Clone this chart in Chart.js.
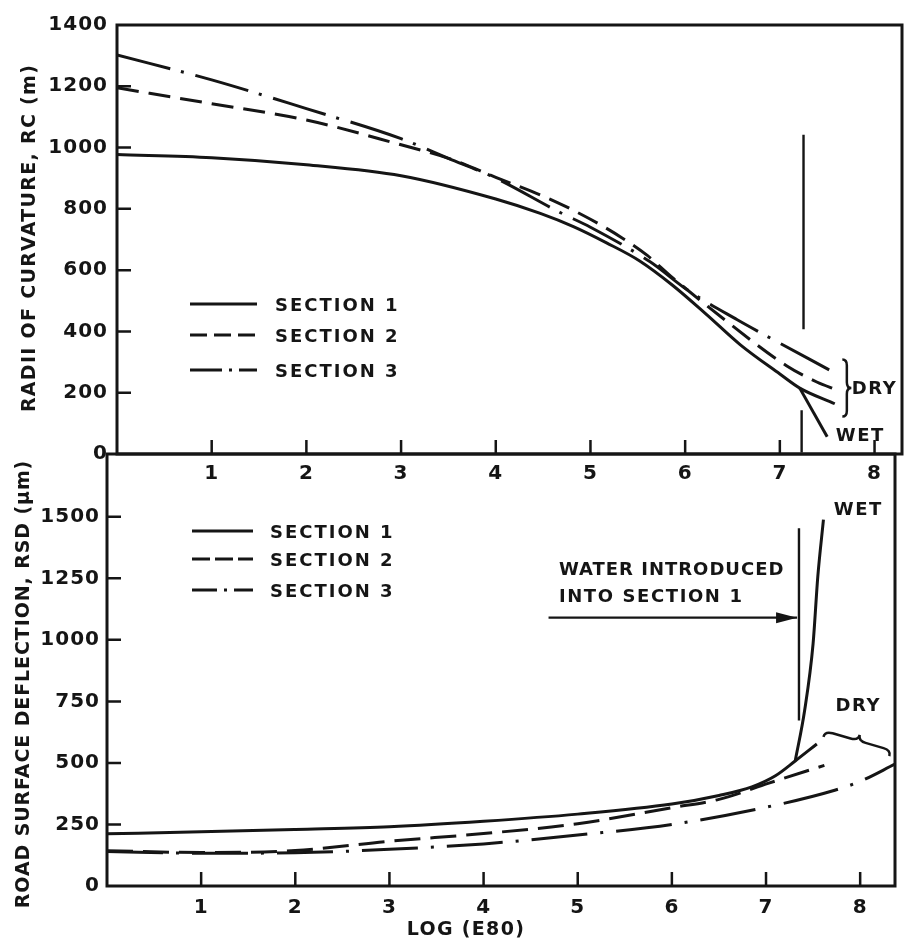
<!DOCTYPE html>
<html>
<head>
<meta charset="utf-8">
<title>RC and RSD versus LOG (E80)</title>
<script src="https://cdn.jsdelivr.net/npm/chart.js@4.4.1/dist/chart.umd.min.js"></script>
<style>
  html, body { margin: 0; padding: 0; background: #fff; }
  #wrap { position: relative; width: 906px; height: 949px; }
  #wrap canvas { position: absolute; left: 0; top: 0; }
</style>
</head>
<body>
<div id="wrap">
  <canvas id="rcChart" width="906" height="949"></canvas>
  <canvas id="rsdChart" width="906" height="949"></canvas>
</div>
<script>
// top panel: radii of curvature, RC (m)
const rcS1X  = [0, 1, 2, 3, 4, 4.47, 4.82, 5.17, 5.52, 5.87, 6.23, 6.58, 7, 7.21, 7.58];
const rcS1   = [977, 967, 944, 908, 832, 785, 742, 689, 630, 550, 454, 357, 261, 215, 164];
const rcWetX = [7.21, 7.5];
const rcWet  = [215, 56];
const rcS2X  = [0, 1, 2, 3, 3.5, 4, 4.6, 5, 5.33, 5.6, 5.85, 6.43, 7.07, 7.39, 7.6];
const rcS2   = [1195, 1143, 1090, 1009, 965, 903, 828, 766, 706, 648, 580, 435, 288, 235, 209];
const rcS3X  = [0, 1, 2, 3, 3.5, 4, 4.68, 5, 5.63, 6.03, 6.55, 6.86, 7.53];
const rcS3   = [1302, 1221, 1127, 1029, 965, 900, 788, 740, 627, 534, 438, 385, 273];
const rcWaterX    = [7.25, 7.25];
const rcWaterHigh = [1042, 407];
const rcWaterLowX = [7.23, 7.23];
const rcWaterLow  = [143, 5];

// bottom panel: road surface deflection, RSD (um)
const rsdS1X  = [0, 1, 2, 3, 4, 5, 6, 6.5, 6.85, 7.1, 7.31, 7.54];
const rsdS1   = [212, 220, 230, 241, 263, 292, 333, 368, 403, 448, 508, 577];
const rsdWetX = [7.31, 7.41, 7.5, 7.55, 7.61];
const rsdWet  = [508, 713, 985, 1257, 1488];
const rsdS2X  = [0, 1, 2, 3, 4, 5, 6, 6.5, 7.03, 7.62];
const rsdS2   = [143, 136, 144, 182, 213, 253, 318, 352, 418, 490];
const rsdS3X  = [0, 1, 2, 3, 4, 5, 6, 7, 7.73, 8, 8.37];
const rsdS3   = [140, 133, 135, 149, 171, 207, 250, 320, 389, 425, 495];
const rsdWaterX = [7.35, 7.35];
const rsdWater  = [1453, 672];
const rsdArrowX = [4.69, 7.33];
const rsdArrow  = [1090, 1090];

// tick labels
const logTicks = [1, 2, 3, 4, 5, 6, 7, 8];
const rcTicks  = [0, 200, 400, 600, 800, 1000, 1200, 1400];
const rsdTicks = [0, 250, 500, 750, 1000, 1250, 1500];

const ink = '#151515';
const family = '"DejaVu Sans", "Liberation Sans", sans-serif';
const tickFont = { family: family, size: 20, weight: 'bold' };

const pts = (xs, ys) => xs.map((x, i) => ({ x: x, y: ys[i] }));

function curve(label, xs, ys, dash) {
    return {
        label: label,
        data: pts(xs, ys),
        borderColor: ink,
        borderWidth: 3,
        borderDash: dash || [],
        borderCapStyle: 'butt',
        pointRadius: 0,
        fill: false,
        cubicInterpolationMode: 'monotone'
    };
}

function straight(label, xs, ys, width) {
    return {
        label: label,
        data: pts(xs, ys),
        borderColor: ink,
        borderWidth: width,
        pointRadius: 0,
        fill: false,
        tension: 0
    };
}

function brace(ctx, p1, p2, dir, d) {
    const dx = p2.x - p1.x, dy = p2.y - p1.y, L = Math.hypot(dx, dy);
    const u = { x: dx / L, y: dy / L };
    let n = { x: -u.y, y: u.x };
    if (n.x * dir.x + n.y * dir.y < 0) n = { x: -n.x, y: -n.y };
    const at = (s, t) => ({ x: p1.x + u.x * s + n.x * t, y: p1.y + u.y * s + n.y * t });
    const h = d / 2, q = Math.min(h * 1.3, L / 4), m = L / 2;
    let c, e;
    ctx.beginPath();
    ctx.moveTo(p1.x, p1.y);
    c = at(0, h); e = at(q, h); ctx.quadraticCurveTo(c.x, c.y, e.x, e.y);
    e = at(m - q, h); ctx.lineTo(e.x, e.y);
    c = at(m, h); e = at(m, d); ctx.quadraticCurveTo(c.x, c.y, e.x, e.y);
    e = at(m + q, h); ctx.quadraticCurveTo(c.x, c.y, e.x, e.y);
    e = at(L - q, h); ctx.lineTo(e.x, e.y);
    c = at(L, h); ctx.quadraticCurveTo(c.x, c.y, p2.x, p2.y);
    ctx.stroke();
}

function text(ctx, str, x, y, size, spacing, align, rotate) {
    ctx.save();
    ctx.font = 'bold ' + size + 'px ' + family;
    ctx.letterSpacing = spacing + 'px';
    ctx.textAlign = align || 'center';
    ctx.textBaseline = 'middle';
    ctx.translate(x, y);
    if (rotate) ctx.rotate(rotate);
    ctx.fillText(str, 0, 0);
    ctx.restore();
}

// frame, inward ticks, legend and notes for one panel
function paper(cfg) {
    return {
        id: 'paper',
        beforeDraw(chart) {
            chart.ctx.letterSpacing = '1px';
        },
        afterDraw(chart) {
            const ctx = chart.ctx, a = chart.chartArea;
            const xs = chart.scales.x, ys = chart.scales.y;
            const px = v => xs.getPixelForValue(v), py = v => ys.getPixelForValue(v);
            ctx.save();
            ctx.strokeStyle = ink;
            ctx.fillStyle = ink;
            ctx.lineWidth = 3;
            ctx.strokeRect(a.left, a.top, a.right - a.left, a.bottom - a.top);

            ctx.lineWidth = 2.5;
            ctx.beginPath();
            xs.ticks.forEach(t => {
                if (t.value <= xs.min || t.value >= xs.max) return;
                ctx.moveTo(px(t.value), a.bottom);
                ctx.lineTo(px(t.value), a.bottom - 14);
            });
            ys.ticks.forEach(t => {
                if (t.value <= ys.min || t.value >= ys.max) return;
                ctx.moveTo(a.left, py(t.value));
                ctx.lineTo(a.left + 14, py(t.value));
            });
            ctx.stroke();

            const lg = cfg.legend;
            lg.rows.forEach((row, i) => {
                const yy = a.top + lg.top[i];
                ctx.save();
                ctx.lineWidth = 3;
                ctx.setLineDash(row.dash);
                ctx.beginPath();
                ctx.moveTo(a.left + lg.x0, yy);
                ctx.lineTo(a.left + lg.x1, yy);
                ctx.stroke();
                ctx.restore();
                text(ctx, row.text, a.left + lg.tx, yy + 2, 18, 2, 'left');
            });

            cfg.notes.forEach(nt => text(ctx, nt.text, px(nt.x), py(nt.y), nt.size, nt.spacing, nt.align));

            ctx.lineWidth = 2.5;
            cfg.braces.forEach(b => brace(ctx,
                { x: px(b.from[0]), y: py(b.from[1]) },
                { x: px(b.to[0]), y: py(b.to[1]) }, b.dir, b.depth));

            if (cfg.arrowTip) {
                const tx = px(cfg.arrowTip[0]), ty = py(cfg.arrowTip[1]);
                ctx.beginPath();
                ctx.moveTo(tx, ty);
                ctx.lineTo(tx - 21, ty - 5.5);
                ctx.lineTo(tx - 21, ty + 5.5);
                ctx.closePath();
                ctx.fill();
            }

            (cfg.titles || []).forEach(t => text(ctx, t.text, t.x, t.y, 19, t.spacing, 'center', t.rotate));
            ctx.restore();
        }
    };
}

function axes(xMax, yMax, yTicks, yWidth, xHeight, xPad, yPad) {
    const common = {
        grid: { display: false, drawTicks: false },
        border: { display: false }
    };
    return {
        x: Object.assign({
            type: 'linear', min: 0, max: xMax,
            afterBuildTicks: s => { s.ticks = logTicks.map(v => ({ value: v })); },
            afterFit: s => { s.height = xHeight; },
            ticks: { color: ink, font: tickFont, padding: xPad, maxRotation: 0, autoSkip: false, callback: v => String(v) }
        }, common),
        y: Object.assign({
            type: 'linear', min: 0, max: yMax,
            afterBuildTicks: s => { s.ticks = yTicks.map(v => ({ value: v })); },
            afterFit: s => { s.width = yWidth; },
            ticks: { color: ink, font: tickFont, padding: yPad, autoSkip: false, callback: v => String(v) }
        }, common)
    };
}

const dash2 = [22, 10];
const dash3 = [55, 11, 3, 12];

new Chart(document.getElementById('rcChart'), {
    type: 'line',
    data: {
        datasets: [
            curve('Section 1', rcS1X, rcS1),
            straight('Section 1 wet', rcWetX, rcWet, 3),
            curve('Section 2', rcS2X, rcS2, dash2),
            curve('Section 3', rcS3X, rcS3, dash3),
            straight('water', rcWaterX, rcWaterHigh, 2.4),
            straight('water', rcWaterLowX, rcWaterLow, 2.4)
        ]
    },
    options: {
        responsive: false,
        animation: false,
        devicePixelRatio: 1,
        layout: { padding: { top: 25, right: 4, left: 0, bottom: 0 } },
        plugins: { legend: { display: false }, tooltip: { enabled: false } },
        scales: axes(8.29, 1400, rcTicks, 117, 495, 8, 9)
    },
    plugins: [paper({
        legend: {
            x0: 73, x1: 140, tx: 158, top: [279, 310, 345],
            rows: [
                { text: 'SECTION 1', dash: [] },
                { text: 'SECTION 2', dash: [17, 7] },
                { text: 'SECTION 3', dash: [32, 7, 3, 7] }
            ]
        },
        notes: [
            { text: 'DRY', x: 8.0, y: 210, size: 18, spacing: 1.5, align: 'center' },
            { text: 'WET', x: 7.85, y: 57, size: 18, spacing: 1.5, align: 'center' }
        ],
        braces: [{ from: [7.66, 308], to: [7.66, 122], dir: { x: 1, y: 0 }, depth: 9 }]
    })]
});

new Chart(document.getElementById('rsdChart'), {
    type: 'line',
    data: {
        datasets: [
            curve('Section 1', rsdS1X, rsdS1),
            curve('Section 1 wet', rsdWetX, rsdWet),
            curve('Section 2', rsdS2X, rsdS2, [26, 10]),
            curve('Section 3', rsdS3X, rsdS3, [56, 13, 3, 13]),
            straight('water', rsdWaterX, rsdWater, 2.4),
            straight('arrow', rsdArrowX, rsdArrow, 2.2)
        ]
    },
    options: {
        responsive: false,
        animation: false,
        devicePixelRatio: 1,
        layout: { padding: { top: 454, right: 11, left: 0, bottom: 0 } },
        plugins: { legend: { display: false }, tooltip: { enabled: false } },
        scales: axes(8.37, 1755, rsdTicks, 107, 63, 10, 7)
    },
    plugins: [paper({
        legend: {
            x0: 85, x1: 146, tx: 163, top: [77, 105, 136],
            rows: [
                { text: 'SECTION 1', dash: [] },
                { text: 'SECTION 2', dash: [18, 5] },
                { text: 'SECTION 3', dash: [25, 7, 3, 7] }
            ]
        },
        notes: [
            { text: 'WATER INTRODUCED', x: 4.8, y: 1283, size: 18, spacing: 1, align: 'left' },
            { text: 'INTO SECTION 1', x: 4.8, y: 1172, size: 18, spacing: 1.6, align: 'left' },
            { text: 'WET', x: 7.98, y: 1528, size: 18, spacing: 1.5, align: 'center' },
            { text: 'DRY', x: 7.98, y: 729, size: 18, spacing: 1.5, align: 'center' }
        ],
        braces: [{ from: [7.61, 606], to: [8.31, 528], dir: { x: 0, y: -1 }, depth: 12 }],
        arrowTip: [7.33, 1090],
        titles: [
            { text: 'RADII OF CURVATURE, RC (m)', x: 30, y: 238, spacing: 1.3, rotate: -Math.PI / 2 },
            { text: 'ROAD SURFACE DEFLECTION, RSD (\u03bcm)', x: 24, y: 684, spacing: 0.9, rotate: -Math.PI / 2 },
            { text: 'LOG (E80)', x: 466, y: 930, spacing: 1.3 }
        ]
    })]
});
</script>
</body>
</html>
